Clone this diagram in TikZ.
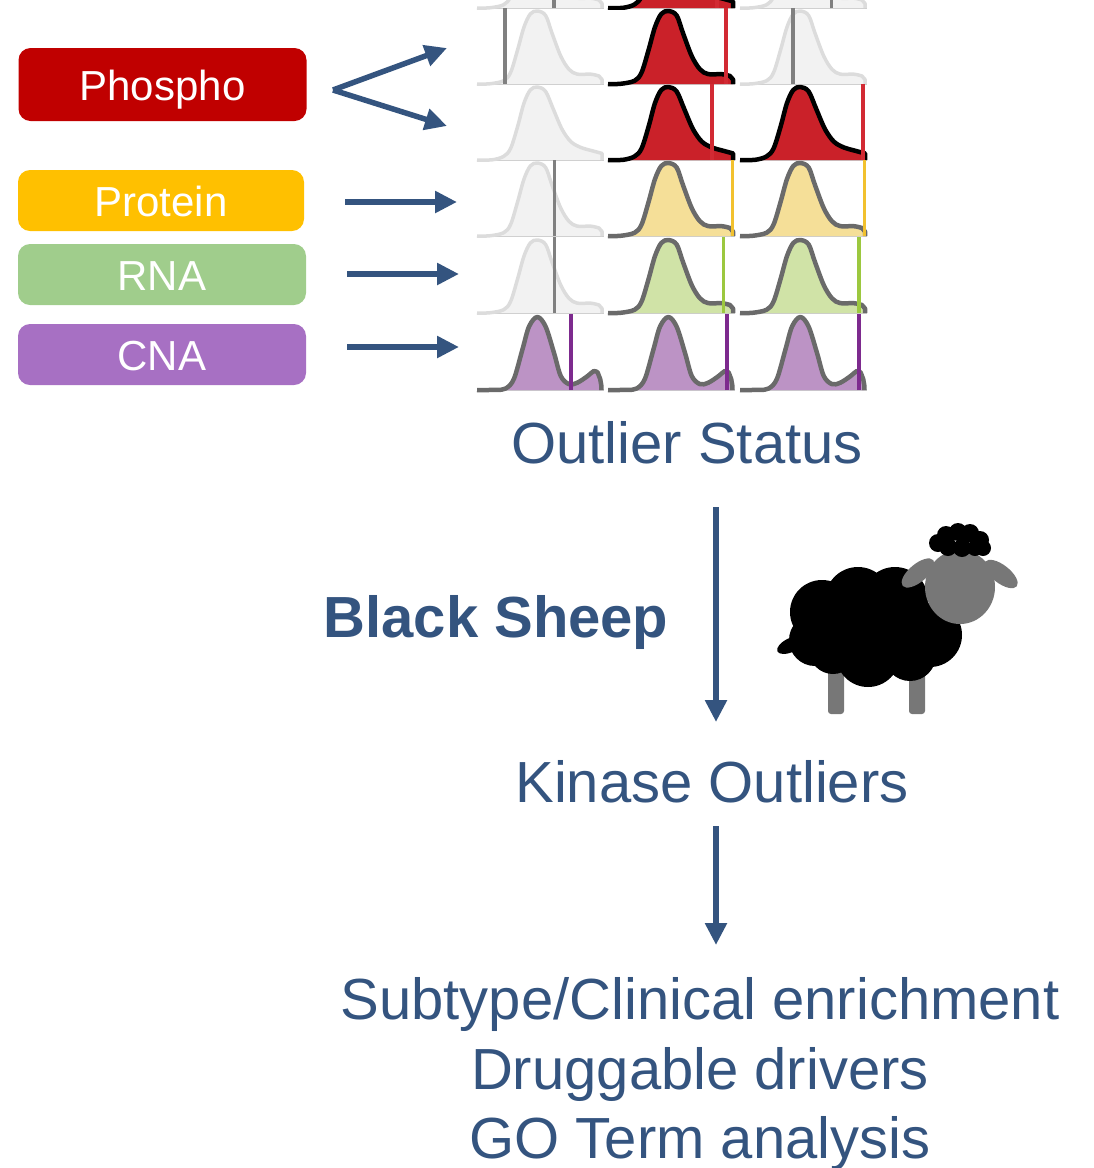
\documentclass[tikz,border=0pt]{standalone}
\usepackage{fontspec}
\setmainfont{Liberation Sans}
\usetikzlibrary{arrows.meta}

\definecolor{flowblue}{HTML}{34547F}
\definecolor{phosphoC}{HTML}{C00000}
\definecolor{proteinC}{HTML}{FFC000}
\definecolor{rnaC}{HTML}{A0CD8C}
\definecolor{cnaC}{HTML}{A770C3}
\definecolor{baseC}{HTML}{CCCCCC}
% distribution panel colours
\definecolor{fillG}{HTML}{F2F2F2}\definecolor{edgeGc}{HTML}{DCDCDC}\definecolor{tickGc}{HTML}{808080}
\definecolor{fillR}{HTML}{CA2129}\definecolor{edgeRc}{HTML}{000000}\definecolor{tickRc}{HTML}{D22A33}
\definecolor{fillY}{HTML}{F5DF98}\definecolor{edgeYc}{HTML}{6A6A6A}\definecolor{tickYc}{HTML}{F2C12E}
\definecolor{fillN}{HTML}{D0E3A7}\definecolor{edgeNc}{HTML}{6A6A6A}\definecolor{tickNc}{HTML}{9CC83F}
\definecolor{fillP}{HTML}{BC93C5}\definecolor{edgePc}{HTML}{6A6A6A}\definecolor{tickPc}{HTML}{7D2A8E}
\definecolor{sheepgray}{HTML}{777777}

% density curves in unit coordinates (width 1, peak height 1)
\newcommand\curveA{plot[smooth,tension=0.55] coordinates {(0,0) (0.1,0.003) (0.21,0.045) (0.265,0.16) (0.32,0.47) (0.37,0.78) (0.42,0.96) (0.475,1) (0.54,0.94) (0.59,0.7) (0.66,0.38) (0.725,0.2) (0.79,0.135) (0.895,0.135) (0.96,0.11)} -- (0.985,0.06) -- (0.985,0)}
\newcommand\curveB{plot[smooth,tension=0.55] coordinates {(0,0) (0.12,0.003) (0.21,0.05) (0.265,0.16) (0.32,0.46) (0.37,0.78) (0.42,0.96) (0.475,1) (0.54,0.94) (0.6,0.7) (0.67,0.42) (0.74,0.25) (0.82,0.17) (0.9,0.13) (0.985,0.09)} -- (0.985,0)}
\newcommand\curveC{plot[smooth,tension=0.55] coordinates {(0,0) (0.15,0.002) (0.225,0.02) (0.29,0.15) (0.357,0.55) (0.41,0.87) (0.475,1) (0.54,0.87) (0.606,0.51) (0.66,0.19) (0.725,0.08) (0.79,0.1) (0.87,0.19) (0.92,0.26) (0.95,0.24)} -- (0.97,0.15) -- (0.98,0.05) -- (0.98,0)}

% #1 x0, #2 baseline y, #3 curve, #4 colour family, #5 position of the marker line
\newcommand\distpanel[5]{%
  \begin{scope}[shift={(#1,#2)},xscale=127,yscale=-73]
    \draw[baseC,line width=2pt] (0,0) -- (1,0);
    \fill[fill#4] #3 -- cycle;
    \draw[edge#4c,line width=\csname edgew#4\endcsname,line join=round] #3;
    \ifx\relax#5\relax\else
      \draw[tick#4c,line width=3.8pt] (#5,0) -- (#5,1.04);
    \fi
  \end{scope}}
\def\edgewG{3.5pt}\def\edgewR{4.5pt}\def\edgewY{4.5pt}\def\edgewN{4.5pt}\def\edgewP{4.5pt}

\begin{document}
\begin{tikzpicture}[x=1pt,y=-1pt,
  omicbox/.style={rounded corners=12pt, text=white, minimum width=288pt,
    inner sep=0pt, text height=32pt, text depth=0pt,
    font=\fontsize{42}{50}\selectfont},
  flowtext/.style={text=flowblue, anchor=base, inner sep=0pt,
    font=\fontsize{58}{70}\selectfont},
  flow/.style={draw=flowblue, line width=5.5pt,
    -{Triangle[length=22pt,width=21pt]}}]
\useasboundingbox (0,0) rectangle (1094,1168);

% data-type boxes
\node[omicbox, fill=phosphoC, minimum height=73pt] (phospho) at (162.5,84.5) {Phospho};
\node[omicbox, fill=proteinC, minimum height=61pt, minimum width=286pt] (protein) at (161,200.5) {Protein};
\node[omicbox, fill=rnaC, minimum height=61pt] (rna) at (162,274.5) {RNA};
\node[omicbox, fill=cnaC, minimum height=61pt] (cna) at (162,354.5) {CNA};

% arrows into the panel grid
\coordinate (fork) at (333,90);
\coordinate (phA) at (447,48);
\coordinate (phB) at (447,126);
\coordinate (prS) at (345,202);  \coordinate (prE) at (457,202);
\coordinate (rnS) at (347,274);  \coordinate (rnE) at (459,274);
\coordinate (cnS) at (347,347);  \coordinate (cnE) at (459,347);
\draw[flow] (fork) -- (phA);
\draw[flow] (fork) -- (phB);
\draw[flow] (prS) -- (prE);
\draw[flow] (rnS) -- (rnE);
\draw[flow] (cnS) -- (cnE);

% grid of distributions
\begin{scope}
  \clip (470,-2) rectangle (875,9);
  \distpanel{477}{8}{\curveA}{G}{0.606}
  \distpanel{608}{8}{\curveB}{R}{0.86}
  \distpanel{740}{8}{\curveA}{G}{0.72}
\end{scope}
\distpanel{477}{84}{\curveA}{G}{0.22}
\distpanel{608}{84}{\curveA}{R}{0.93}
\distpanel{740}{84}{\curveA}{G}{0.42}
\distpanel{477}{160}{\curveB}{G}{}
\distpanel{608}{160}{\curveB}{R}{0.82}
\distpanel{740}{160}{\curveB}{R}{0.97}
\distpanel{477}{236}{\curveA}{G}{0.61}
\distpanel{608}{236}{\curveA}{Y}{0.98}
\distpanel{740}{236}{\curveA}{Y}{0.98}
\distpanel{477}{313}{\curveA}{G}{0.61}
\distpanel{608}{313}{\curveA}{N}{0.91}
\distpanel{740}{313}{\curveA}{N}{0.94}
\distpanel{477}{390}{\curveC}{P}{0.74}
\distpanel{608}{390}{\curveC}{P}{0.94}
\distpanel{740}{390}{\curveC}{P}{0.94}

% pipeline text
\node[flowtext] (status) at (687,463) {Outlier Status};
\node[flowtext, font=\fontsize{58}{70}\selectfont\bfseries] (method) at (496,637) {Black Sheep};
\node[flowtext] (kinase) at (712,802) {Kinase Outliers};
\node[flowtext] (res1) at (700,1019) {Subtype/Clinical enrichment};
\node[flowtext] (res2) at (700,1089) {Druggable drivers};
\node[flowtext] (res3) at (700,1158) {GO Term analysis};

\coordinate (v1s) at (716,507);  \coordinate (v1e) at (716,722);
\coordinate (v2s) at (716,826);  \coordinate (v2e) at (716,945);
\draw[flow] (v1s) -- (v1e);
\draw[flow] (v2s) -- (v2e);

% the black sheep
\fill[sheepgray, rounded corners=3pt] (828,670) rectangle (844,714);
\fill[sheepgray, rounded corners=3pt] (909,670) rectangle (925,714);
\fill[black, rotate around={25:(791,645)}] (791,645) ellipse (15 and 7);
\fill[black] (822,612) circle (32)
  (858,600) circle (33)
  (895,600) circle (33)
  (930,635) circle (32)
  (815,640) circle (26)
  (833,650) circle (24)
  (868,655) circle (32)
  (910,655) circle (26)
  (940,645) circle (15)
  (875,625) circle (40);
\fill[sheepgray, rotate around={40:(918,573)}] (918,573) ellipse (20 and 9);
\fill[sheepgray, rotate around={-38:(1001,574)}] (1001,574) ellipse (20 and 9);
\fill[sheepgray] (960,587) ellipse (35 and 37);
\fill[black] (938,543) circle (9)
  (946,535) circle (9)
  (958,532) circle (9)
  (970,533) circle (9)
  (980,540) circle (9)
  (983,548) circle (8)
  (948,547) circle (9)
  (962,548) circle (9)
  (975,548) circle (8);
\end{tikzpicture}
\end{document}
